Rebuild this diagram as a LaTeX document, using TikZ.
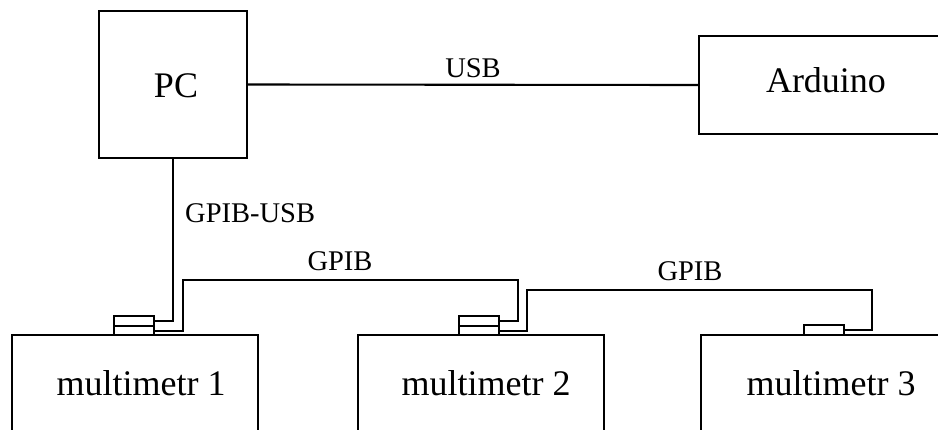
\documentclass[tikz,border=0pt]{standalone}
\usepackage{fontspec}
\setmainfont{Liberation Serif}
\tikzset{
  box/.style={draw, line width=2.1pt, rectangle, inner sep=0pt},
  big/.style={font=\fontsize{36}{40}\selectfont, inner sep=0pt, anchor=base},
  lab/.style={font=\fontsize{28.5}{32}\selectfont, inner sep=0pt, anchor=base},
  wire/.style={line width=2.1pt},
  conn/.style={draw, line width=2.1pt, rectangle, inner sep=0pt, minimum width=40pt, anchor=north west}
}
\begin{document}
\begin{tikzpicture}[x=1pt,y=-1pt]
\useasboundingbox (0,0) rectangle (938,429);
\clip (0,0) rectangle (938,429);
% main boxes
\node[box, minimum width=148pt, minimum height=147pt] (pc) at (173,84.5) {};
\node[big] (pct) at (176,97) {PC};
\node[box, minimum width=254pt, minimum height=98pt] (ard) at (826,85) {};
\node[big] (ardt) at (826,92) {Arduino};
% multimeters
\node[box, minimum width=246pt, minimum height=140pt, anchor=north west] (m1) at (11,334) {};
\node[box, minimum width=246pt, minimum height=140pt, anchor=north west] (m2) at (357,334) {};
\node[box, minimum width=246pt, minimum height=140pt, anchor=north west] (m3) at (700,334) {};
\node[big] (m1t) at (141,395) {multimetr 1};
\node[big] (m2t) at (486,395) {multimetr 2};
\node[big] (m3t) at (831,395) {multimetr 3};
% connectors
\node[conn, minimum height=10pt] (c1a) at (113,315) {};
\node[conn, minimum height=9pt] (c1b) at (113,325) {};
\node[conn, minimum height=10pt] (c2a) at (458,315) {};
\node[conn, minimum height=9pt] (c2b) at (458,325) {};
\node[conn, minimum height=10pt] (c3) at (803,324) {};
% wires
\draw[wire] (pc.east) -- (ard.west);
\node[lab] (usb) at (473,77) {USB};
\draw[wire] (pc.south) |- (c1a.east);
\node[lab, anchor=base west] (gu) at (185,222) {GPIB-USB};
\coordinate (w1a) at (183,280);
\coordinate (w1b) at (518,280);
\draw[wire] (c1b.east) -| (w1a) -- (w1b) |- (c2a.east);
\node[lab] (g1) at (340,270) {GPIB};
\coordinate (w2a) at (527,290);
\coordinate (w2b) at (872,290);
\draw[wire] (c2b.east) -| (w2a) -- (w2b) |- (c3.east);
\node[lab] (g2) at (690,280) {GPIB};
\end{tikzpicture}
\end{document}
